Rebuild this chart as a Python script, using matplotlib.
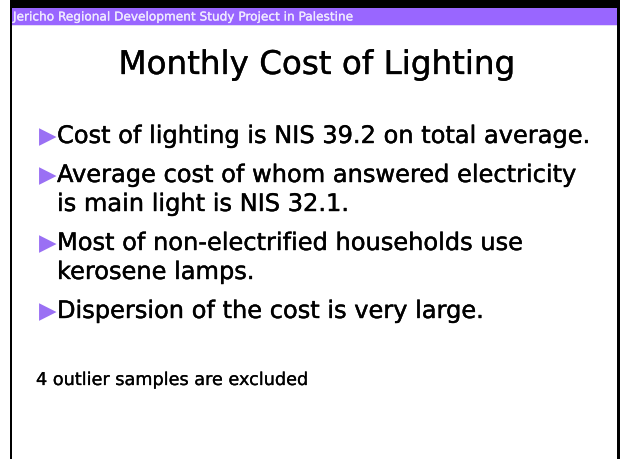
import matplotlib
matplotlib.use('Agg')
import matplotlib.pyplot as plt
import matplotlib.patheffects as pe
from matplotlib.patches import Rectangle

W, H = 620, 460

# slide content
header = 'Jericho Regional Development Study Project in Palestine'
title = 'Monthly Cost of Lighting'
bullets = [
    ['Cost of lighting is NIS 39.2 on total average.'],
    ['Average cost of whom answered electricity', 'is main light is NIS 32.1.'],
    ['Most of non-electrified households use', 'kerosene lamps.'],
    ['Dispersion of the cost is very large.'],
]
note = '4 outlier samples are excluded'

# layout (pixels, y down)
title_base = 75
first_base = 144
line_gap = 29
para_gap = 39
note_base = 386

purple = '#9966ff'
arrow_col = '#9a70f4'
font = 'DejaVu Sans'

fig = plt.figure(figsize=(6.2, 4.6), dpi=100)
ax = fig.add_axes([0, 0, 1, 1])
ax.set_xlim(0, W)
ax.set_ylim(H, 0)
ax.axis('off')
renderer = fig.canvas.get_renderer()


def fit_size(txt, width):
    t = ax.text(0, 0, txt, fontsize=10, family=font)
    w = t.get_window_extent(renderer).width
    t.remove()
    return 10 * width / w


def heavy(color, lw=0.3):
    # slide text is a touch heavier than DejaVu book
    return [pe.Stroke(linewidth=lw, foreground=color), pe.Normal()]


# frame and header band
ax.add_patch(Rectangle((10, 0), 610, 9, color='black', lw=0))
ax.add_patch(Rectangle((9.5, 8), 2.5, H, color='black', lw=0))
ax.add_patch(Rectangle((617, 0), 3, H, color='black', lw=0))
ax.add_patch(Rectangle((12, 9), 605, 16.5, color=purple, lw=0))
ax.add_patch(Rectangle((12, 25.5), 605, 1.5, color='#e4daf8', lw=0))

ax.text(13, 21.5, header, fontsize=fit_size(header, 340), family=font,
        color='#efe9ff', va='baseline', ha='left',
        path_effects=heavy('#efe9ff', 0.2))

ax.text(316.5, title_base, title, fontsize=fit_size(title, 397), family=font,
        color='black', va='baseline', ha='center',
        path_effects=heavy('black', 0.25))

body_size = fit_size(bullets[0][0], 533)
y = first_base
for para in bullets:
    ax.text(39, y - 0.5, '\u25b6', fontsize=body_size * 0.95, family=font,
            color=arrow_col, va='baseline', ha='left')
    for line in para:
        ax.text(57, y, line, fontsize=body_size, family=font,
                color='black', va='baseline', ha='left',
                path_effects=heavy('black'))
        y += line_gap
    y += para_gap - line_gap

ax.text(36, note_base, note, fontsize=fit_size(note, 272), family=font,
        color='black', va='baseline', ha='left',
        path_effects=heavy('black', 0.2))

fig.savefig('out.png', dpi=100, facecolor='white')
